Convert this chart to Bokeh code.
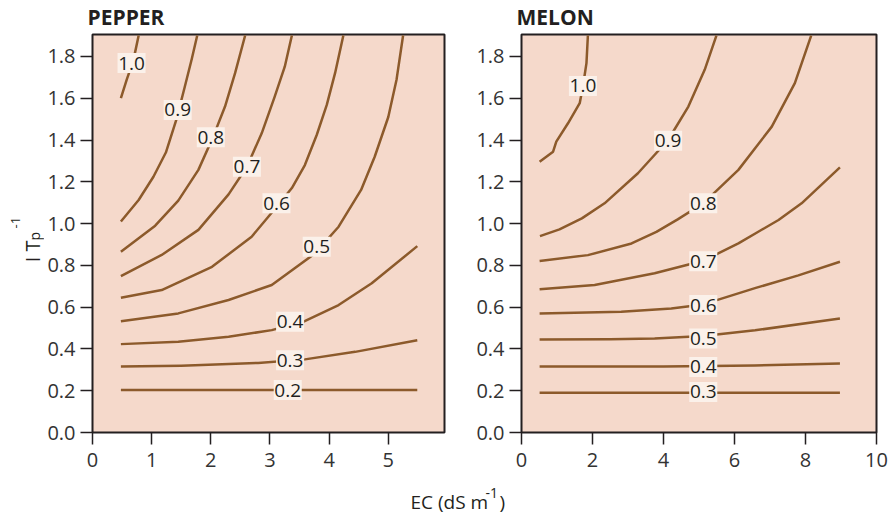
import math
from bokeh.plotting import figure
from bokeh.models import Label, FixedTicker, Range1d, NumeralTickFormatter
from bokeh.layouts import row, column
from bokeh.embed import file_html
from bokeh.resources import INLINE
from bokeh.core.properties import value

# ---------------- data ----------------
y_ticks = [0.0, 0.2, 0.4, 0.6, 0.8, 1.0, 1.2, 1.4, 1.6, 1.8]
pepper_x_ticks = [0, 1, 2, 3, 4, 5]
melon_x_ticks = [0, 2, 4, 6, 8, 10]

# PEPPER contours (EC, I Tp^-1)
pepper_c10_ec = [0.48, 0.58, 0.69, 0.78]
pepper_c10_it = [1.60, 1.69, 1.78, 1.90]
pepper_c09_ec = [0.48, 0.78, 1.03, 1.24, 1.42, 1.56, 1.68, 1.77]
pepper_c09_it = [1.01, 1.113, 1.224, 1.34, 1.50, 1.655, 1.79, 1.90]
pepper_c08_ec = [0.48, 1.06, 1.45, 1.79, 2.04, 2.24, 2.41, 2.58]
pepper_c08_it = [0.865, 0.99, 1.11, 1.257, 1.416, 1.56, 1.72, 1.90]
pepper_c07_ec = [0.48, 1.17, 1.79, 2.30, 2.61, 2.86, 3.08, 3.25, 3.37]
pepper_c07_it = [0.749, 0.85, 0.97, 1.14, 1.272, 1.432, 1.608, 1.751, 1.90]
pepper_c06_ec = [0.48, 1.17, 2.02, 2.69, 3.11, 3.37, 3.59, 3.79, 3.96, 4.10, 4.24]
pepper_c06_it = [0.645, 0.682, 0.793, 0.937, 1.079, 1.17, 1.28, 1.424, 1.568, 1.72, 1.90]
pepper_c05_ec = [0.48, 1.45, 2.30, 3.03, 3.76, 4.16, 4.54, 4.77, 5.00, 5.14, 5.25]
pepper_c05_it = [0.533, 0.570, 0.634, 0.706, 0.857, 0.985, 1.161, 1.32, 1.51, 1.69, 1.90]
pepper_c04_ec = [0.48, 1.45, 2.30, 3.03, 3.56, 4.16, 4.72, 5.49]
pepper_c04_it = [0.423, 0.434, 0.458, 0.490, 0.530, 0.610, 0.714, 0.892]
pepper_c03_ec = [0.48, 1.50, 2.80, 3.59, 4.44, 5.49]
pepper_c03_it = [0.316, 0.320, 0.333, 0.350, 0.386, 0.442]
pepper_c02_ec = [0.48, 2.00, 3.50, 5.49]
pepper_c02_it = [0.203, 0.204, 0.204, 0.203]

pepper_label_ec = [0.66, 1.44, 2.00, 2.61, 3.11, 3.79, 3.34, 3.34, 3.30]
pepper_label_it = [1.768, 1.544, 1.413, 1.272, 1.097, 0.889, 0.530, 0.346, 0.203]
pepper_label_txt = ["1.0", "0.9", "0.8", "0.7", "0.6", "0.5", "0.4", "0.3", "0.2"]

# MELON contours
melon_c10_ec = [0.51, 0.89, 0.98, 1.31, 1.64, 1.73, 1.83, 1.87]
melon_c10_it = [1.296, 1.344, 1.392, 1.48, 1.576, 1.656, 1.768, 1.90]
melon_c09_ec = [0.52, 1.07, 1.70, 2.34, 3.28, 4.13, 4.70, 5.16, 5.49]
melon_c09_it = [0.940, 0.972, 1.025, 1.097, 1.241, 1.400, 1.560, 1.736, 1.90]
melon_c08_ec = [0.51, 1.87, 3.10, 3.80, 4.40, 5.12, 6.11, 7.05, 7.70, 8.16]
melon_c08_it = [0.821, 0.849, 0.905, 0.960, 1.020, 1.097, 1.257, 1.464, 1.672, 1.90]
melon_c07_ec = [0.51, 2.06, 3.75, 5.12, 6.11, 6.67, 7.24, 7.89, 8.97]
melon_c07_it = [0.686, 0.706, 0.762, 0.822, 0.905, 0.961, 1.017, 1.097, 1.269]
melon_c06_ec = [0.51, 2.81, 4.22, 5.12, 6.60, 7.80, 8.97]
melon_c06_it = [0.570, 0.578, 0.594, 0.613, 0.692, 0.752, 0.817]
melon_c05_ec = [0.51, 2.50, 3.75, 5.12, 6.58, 8.97]
melon_c05_it = [0.445, 0.446, 0.450, 0.462, 0.489, 0.546]
melon_c04_ec = [0.51, 4.00, 6.57, 8.97]
melon_c04_it = [0.316, 0.316, 0.321, 0.330]
melon_c03_ec = [0.51, 5.00, 8.97]
melon_c03_it = [0.190, 0.190, 0.190]

melon_label_ec = [1.73, 4.13, 5.12, 5.12, 5.12, 5.12, 5.12, 5.12]
melon_label_it = [1.659, 1.397, 1.097, 0.820, 0.610, 0.450, 0.314, 0.194]
melon_label_txt = ["1.0", "0.9", "0.8", "0.7", "0.6", "0.5", "0.4", "0.3"]

# ---------------- styling ----------------
FONT = "Open Sans"
BG = "#f5d9cb"
LINE = "#8c5a2b"
DARK = "#231f20"
TICKTXT = "#333333"
BOX = "#fbf1ea"
TOP_H = 33
B_TOP = 1
B_BOT = 46
FRAME_H = 398
PANEL_H = B_TOP + FRAME_H + B_BOT


def make_panel(xmax, xticks, frame_w, bl, br, contours, lab_x, lab_y, lab_t):
    p = figure(frame_width=frame_w, frame_height=FRAME_H, title=None,
               x_range=Range1d(0, xmax), y_range=Range1d(0, 1.905),
               output_backend="svg", toolbar_location=None,
               min_border_left=bl, min_border_right=br,
               min_border_top=B_TOP, min_border_bottom=B_BOT)
    p.background_fill_color = BG
    p.border_fill_color = "white"
    p.outline_line_color = DARK
    p.outline_line_width = 2
    p.grid.visible = False
    p.xaxis.ticker = FixedTicker(ticks=xticks)
    p.yaxis.ticker = FixedTicker(ticks=y_ticks)
    p.yaxis.formatter = NumeralTickFormatter(format="0.0")
    for ax in list(p.xaxis) + list(p.yaxis):
        ax.axis_line_color = None
        ax.major_tick_line_color = DARK
        ax.major_tick_line_width = 1.5
        ax.major_tick_out = 12
        ax.major_tick_in = 0
        ax.minor_tick_line_color = None
        ax.major_label_text_font = FONT
        ax.major_label_text_font_size = "20px"
        ax.major_label_text_color = TICKTXT
    p.xaxis.major_label_standoff = 8
    p.yaxis.major_label_standoff = 5

    for xs, ys in contours:
        p.line(xs, ys, line_color=LINE, line_width=2.5, line_join="round")

    p.rect(x=lab_x, y=lab_y, width=28, height=20, width_units="screen",
           height_units="screen", fill_color=BOX, line_color=None)
    p.text(x=lab_x, y=lab_y, text=lab_t, text_font=value(FONT),
           text_font_size="19px", text_align="center", text_baseline="middle",
           text_color=DARK)
    return p


def blank(width, height, bt=0, bb=0):
    b = figure(width=width, height=height, output_backend="svg",
               toolbar_location=None, title=None, x_axis_type=None,
               y_axis_type=None, min_border=0, min_border_top=bt,
               min_border_bottom=bb,
               x_range=Range1d(0, 1), y_range=Range1d(0, 1))
    b.outline_line_color = None
    b.background_fill_color = "white"
    b.border_fill_color = "white"
    b.grid.visible = False
    return b


def lab(fig, x, y, text, size, align="left", angle=0.0, bold=False):
    fig.add_layout(Label(x=x, y=y, x_units="screen", y_units="screen",
                         angle=angle, text=text, text_font=FONT,
                         text_font_size=size, text_color=DARK,
                         text_font_style="bold" if bold else "normal",
                         text_align=align, text_baseline="alphabetic"))


p1 = make_panel(5.95, pepper_x_ticks, 352, 47, 20,
                [(pepper_c10_ec, pepper_c10_it), (pepper_c09_ec, pepper_c09_it),
                 (pepper_c08_ec, pepper_c08_it), (pepper_c07_ec, pepper_c07_it),
                 (pepper_c06_ec, pepper_c06_it), (pepper_c05_ec, pepper_c05_it),
                 (pepper_c04_ec, pepper_c04_it), (pepper_c03_ec, pepper_c03_it),
                 (pepper_c02_ec, pepper_c02_it)],
                pepper_label_ec, pepper_label_it, pepper_label_txt)

p2 = make_panel(10, melon_x_ticks, 355, 57, 14,
                [(melon_c10_ec, melon_c10_it), (melon_c09_ec, melon_c09_it),
                 (melon_c08_ec, melon_c08_it), (melon_c07_ec, melon_c07_it),
                 (melon_c06_ec, melon_c06_it), (melon_c05_ec, melon_c05_it),
                 (melon_c04_ec, melon_c04_it), (melon_c03_ec, melon_c03_it)],
                melon_label_ec, melon_label_it, melon_label_txt)

# panel titles strip
tt = blank(889, TOP_H)
lab(tt, 87, 17, "PEPPER", "21px", bold=True)
lab(tt, 516, 17, "MELON", "21px", bold=True)

# y axis title strip: I T_p^-1 (rotated); y measured from frame bottom (image y 432)
yl = blank(44, PANEL_H, B_TOP, B_BOT)
rot = math.pi / 2
lab(yl, 32, 432 - 240, "I T", "20px", "right", rot)
lab(yl, 34, 432 - 240, "p", "14px", "left", rot)
lab(yl, 15, 432 - 228, "-1", "13px", "left", rot)

# x axis title strip: EC (dS m^-1)
STRIP_H = 35
xt = blank(889, STRIP_H)
lab(xt, 410, 12, "EC (dS m", "19px")
lab(xt, 485, 21, "-1", "14px")
lab(xt, 499, 12, ")", "19px")

layout = column(tt, row(yl, p1, p2), xt)

with open("out.html", "w") as f:
    f.write(file_html(layout, INLINE))
